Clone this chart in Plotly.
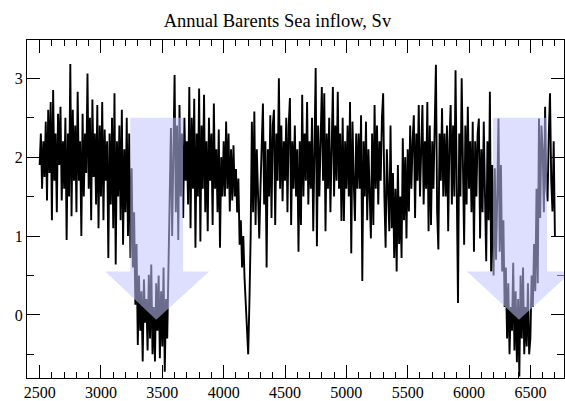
import plotly.graph_objects as go

# ---- data: annual Barents Sea inflow (Sv), read every 10 years from 2500 to 6700 ----
start_year = 2500
step_years = 10
inflow_sv = [
    1.9, 2.3, 1.6, 2.2, 1.75, 2.45, 1.45, 2.6, 1.8, 2.7,
    1.2, 2.85, 1.7, 2.3, 1.3, 2.55, 1.9, 2.64, 1.45, 2.2,
    1.6, 2.5, 0.95, 2.3, 1.5, 3.18, 1.25, 2.6, 1.7, 2.4,
    1.3, 2.83, 1.7, 2.2, 1.0, 2.55, 1.5, 2.3, 1.8, 3.06,
    1.6, 2.5, 1.2, 2.73, 1.75, 2.3, 1.4, 2.66, 1.1, 2.4,
    1.5, 2.7, 1.2, 2.35, 1.7, 2.2, 0.72, 2.3, 1.4, 2.5,
    1.1, 2.81, 0.64, 2.2, 1.5, 2.4, 1.2, 2.6, 0.89, 2.1,
    1.3, 2.5, 1.0, 2.3, 0.72, 1.86, 0.6, 1.3, 0.13, 0.9,
    -0.38, 0.5, -0.2, 0.3, -0.59, 0.45, -0.1, 0.2, -0.45, 0.51,
    -0.3, 0.64, -0.5, 0.1, -0.59, 0.4, -0.2, 0.5, -0.55, 0.3,
    -0.4, 0.6, -0.72, 0.2, -0.3, 0.5, 1.2, 2.37, 1.0, 2.2,
    3.04, 1.3, 2.4, 0.95, 2.66, 1.5, 2.3, 1.23, 2.5, 1.7,
    2.2, 1.4, 2.89, 1.1, 2.5, 1.6, 2.74, 0.85, 2.3, 1.5,
    2.87, 0.93, 2.4, 1.6, 2.79, 1.3, 2.2, 1.06, 2.5, 1.7,
    2.3, 1.14, 2.68, 1.6, 2.1, 1.3, 2.35, 0.85, 2.0, 1.5,
    2.2, 1.5, 2.45, 1.6, 2.3, 1.31, 2.1, 1.45, 2.15, 1.5,
    1.85, 1.3, 1.73, 0.89, 1.2, 0.6, 1.0, 0.47, 0.2, -0.2,
    -0.5, 0.17, 1.0, 2.45, 1.3, 2.58, 1.14, 2.1, 1.5, 0.97,
    1.6, 2.3, 2.68, 1.4, 2.2, 0.6, 2.1, 1.5, 2.53, 1.23,
    2.4, 2.6, 1.14, 2.3, 1.7, 3.0, 1.6, 2.4, 1.44, 2.2,
    1.7, 2.5, 1.3, 2.4, 2.75, 1.14, 2.2, 1.6, 2.4, 1.5,
    2.1, 0.8, 2.2, 1.14, 2.79, 1.5, 2.3, 1.7, 2.7, 1.4,
    2.2, 1.6, 2.5, 1.06, 2.3, 3.13, 0.87, 2.4, 1.5, 2.2,
    2.89, 1.7, 2.81, 1.06, 2.3, 1.6, 2.5, 1.3, 2.2, 2.89,
    1.5, 2.4, 1.7, 2.83, 1.6, 2.3, 1.19, 2.5, 1.19, 2.2,
    1.6, 2.4, 1.5, 2.7, 0.78, 2.45, 1.7, 1.19, 2.3, 1.6,
    2.3, 1.6, 2.53, 0.43, 2.2, 1.5, 2.45, 1.2, 2.1, 1.5,
    0.97, 2.3, 1.14, 2.66, 1.6, 2.4, 1.4, 2.2, 1.7, 2.5,
    2.81, 1.5, 0.85, 2.1, 1.4, 1.06, 2.4, 1.1, 1.8, 0.72,
    1.6, 0.55, 1.9, 0.9, 1.5, 0.72, 2.24, 1.2, 2.0, 0.97,
    2.1, 1.31, 2.4, 1.6, 2.2, 2.53, 1.23, 2.3, 1.7, 2.66,
    1.5, 2.3, 2.66, 1.4, 2.2, 1.6, 2.7, 1.06, 2.4, 1.14,
    2.2, 1.6, 2.5, 3.17, 1.3, 0.83, 2.3, 1.7, 2.62, 1.5,
    2.3, 1.5, 2.4, 1.06, 2.2, 2.66, 1.4, 2.4, 1.5, 3.1,
    1.6, 0.15, 2.3, 1.5, 3.0, 1.7, 0.89, 2.4, 1.4, 2.64,
    1.6, 2.2, 1.3, 2.45, 0.8, 2.2, 1.5, 2.3, 2.49, 0.97,
    2.1, 1.3, 2.45, 1.5, 0.68, 2.2, 1.2, 2.83, 0.55, 1.9,
    0.5, 1.86, 0.7, 1.5, 2.49, 0.8, 1.9, 0.55, 1.2, 0.1,
    0.6, -0.3, 0.4, -0.5, 0.1, -0.2, 0.66, -0.45, 0.3, -0.6,
    0.2, -0.78, 0.5, -0.3, 0.6, -0.5, 0.1, -0.4, 0.4, -0.5,
    -0.3, 0.5, 0.1, 0.9, 0.3, 1.6, 0.4, 2.49, 1.23, 2.4,
    2.1, 1.3, 2.64, 1.6, 1.44, 2.3, 2.81, 1.7, 1.31, 2.2,
    1.0,
]
years = [start_year + step_years * i for i in range(len(inflow_sv))]

x_tick_vals = [2500, 3000, 3500, 4000, 4500, 5000, 5500, 6000, 6500]
y_tick_vals = [0, 1, 2, 3]
title_text = "Annual Barents Sea inflow, Sv"

# ---- arrow annotations (data coordinates) ----
arrows = [
    dict(shaft_l=3239, shaft_r=3669, head_l=3035, head_r=3882, tip=3450),
    dict(shaft_l=6195, shaft_r=6635, head_l=5983, head_r=6838, tip=6407),
]
arrow_top, arrow_head_base, arrow_tip_y = 2.5, 0.55, -0.06

FONT = "Liberation Serif, Times New Roman, serif"

fig = go.Figure()
fig.add_trace(go.Scatter(
    x=years, y=inflow_sv, mode="lines",
    line=dict(color="black", width=1.9),
    hoverinfo="skip", showlegend=False,
))

shapes = []
for a in arrows:
    path = (f"M {a['shaft_l']},{arrow_top} L {a['shaft_r']},{arrow_top} "
            f"L {a['shaft_r']},{arrow_head_base} L {a['head_r']},{arrow_head_base} "
            f"L {a['tip']},{arrow_tip_y} L {a['head_l']},{arrow_head_base} "
            f"L {a['shaft_l']},{arrow_head_base} Z")
    shapes.append(dict(type="path", path=path, xref="x", yref="y",
                       fillcolor="rgba(195,195,255,0.55)",
                       line=dict(width=0), layer="above"))

axis_common = dict(
    showline=True, linecolor="black", linewidth=1, mirror="ticks",
    ticks="inside", ticklen=13, tickwidth=1, tickcolor="black",
    showgrid=False, zeroline=False, automargin=False,
    tickfont=dict(family=FONT, size=16, color="black"),
)

fig.update_layout(
    width=565, height=401,
    margin=dict(l=27, r=1, t=40, b=23, pad=0),
    paper_bgcolor="white", plot_bgcolor="white",
    title=dict(text=title_text, x=0.491, xanchor="center", y=0.95, yanchor="middle",
               xref="container", yref="container", automargin=False,
               font=dict(family=FONT, size=18.5, color="black")),
    shapes=shapes,
)
fig.update_xaxes(range=[2397, 6774], tickvals=x_tick_vals,
                 minor=dict(dtick=100, tick0=2500, ticks="inside", ticklen=6,
                            tickcolor="black", tickwidth=1),
                 **axis_common)
fig.update_yaxes(range=[-0.80, 3.485], tickvals=y_tick_vals,
                 minor=dict(dtick=0.5, tick0=0, ticks="inside", ticklen=7,
                            tickcolor="black", tickwidth=1),
                 **axis_common)

fig.write_html(
    "out.html",
    config={"displayModeBar": False, "staticPlot": True},
    post_script="document.body.style.margin='0';document.body.style.overflow='hidden';",
)
